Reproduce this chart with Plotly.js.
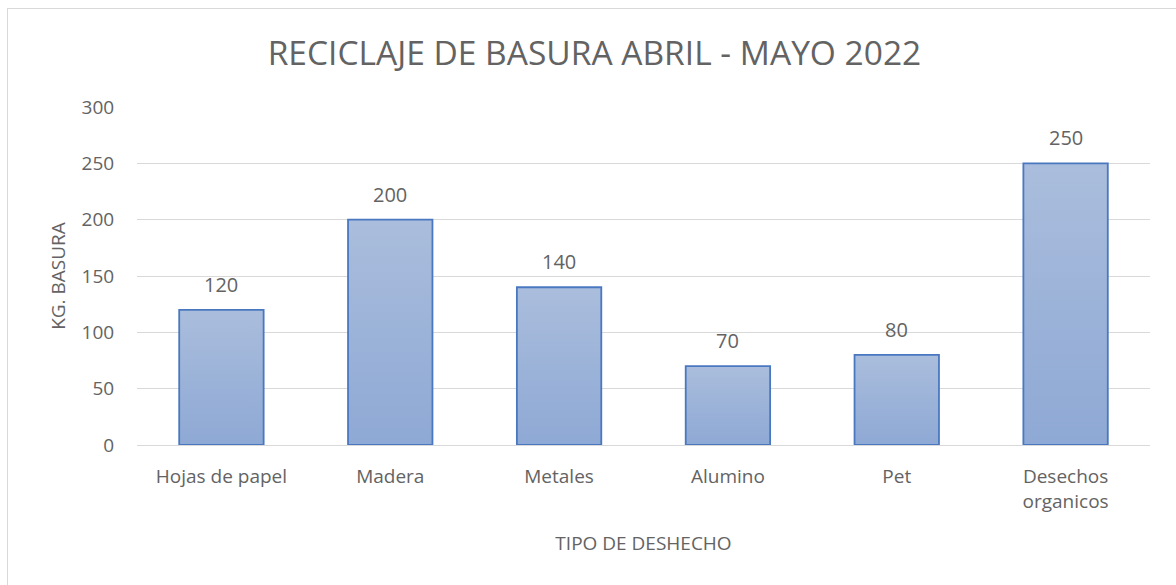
<!DOCTYPE html>
<html>
<head>
<meta charset="utf-8">
<script src="https://cdn.plot.ly/plotly-3.0.1.min.js"></script>
<style>
  html, body { margin: 0; padding: 0; background: #ffffff; overflow: hidden; }
  #wrap { position: absolute; left: 7px; top: 8px; width: 1180px; height: 590px; border: 1px solid #d9d9d9; background: #fff; }
  #chart { width: 1180px; height: 590px; }
</style>
</head>
<body>
<div id="wrap"><div id="chart"></div></div>
<script>
const categories = ["Hojas de papel", "Madera", "Metales", "Alumino", "Pet", "Desechos<br>organicos"];
const values = [120, 200, 140, 70, 80, 250];
const yTicks = [0, 50, 100, 150, 200, 250, 300];

const fontFam = "'Open Sans', 'Noto Sans', 'Liberation Sans', sans-serif";
const grey = "#636363";

const trace = {
  type: "bar",
  x: categories,
  y: values,
  marker: { color: "#9cb1d8", line: { color: "#4a78c0", width: 1.8 } },
  hoverinfo: "none",
  cliponaxis: false
};

const annotations = categories.map((c, i) => ({
  x: c, y: values[i], xref: "x", yref: "y",
  text: String(values[i]),
  showarrow: false, yanchor: "bottom", yshift: 10,
  font: { family: fontFam, size: 20, color: grey }
}));

const layout = {
  width: 1180, height: 590,
  margin: { l: 129, r: 38, t: 98, b: 154 },
  paper_bgcolor: "#ffffff", plot_bgcolor: "#ffffff",
  showlegend: false,
  bargap: 0.5,
  font: { family: fontFam, color: grey },
  title: {
    text: "RECICLAJE DE BASURA ABRIL - MAYO 2022",
    font: { family: fontFam, size: 33.5, color: grey },
    x: 0.497, xanchor: "center", xref: "container",
    y: 0.925, yanchor: "middle", yref: "container"
  },
  xaxis: {
    type: "category",
    tickfont: { family: fontFam, size: 19, color: grey },
    ticks: "outside", ticklen: 14, tickcolor: "rgba(0,0,0,0)",
    showline: true, linecolor: "#d9d9d9", linewidth: 1,
    showgrid: false,
    automargin: false,
    title: { text: "TIPO DE DESHECHO", font: { family: fontFam, size: 19, color: grey }, standoff: 24 }
  },
  yaxis: {
    range: [0, 300],
    tickvals: yTicks,
    ticktext: yTicks.map(String),
    tickfont: { family: fontFam, size: 19, color: grey },
    ticks: "outside", ticklen: 18, tickcolor: "rgba(0,0,0,0)",
    showgrid: true, gridcolor: "#d9d9d9", gridwidth: 1,
    zeroline: false, showline: false,
    automargin: false,
    title: { text: "KG. BASURA", font: { family: fontFam, size: 19, color: grey }, standoff: 10 }
  },
  annotations: annotations
};

function applyGradient(gd) {
  const svg = gd.querySelector("svg.main-svg");
  if (!svg) return;
  let defs = svg.querySelector("defs");
  if (!defs) { defs = document.createElementNS("http://www.w3.org/2000/svg", "defs"); svg.insertBefore(defs, svg.firstChild); }
  if (!svg.querySelector("#barGrad")) {
    const g = document.createElementNS("http://www.w3.org/2000/svg", "linearGradient");
    g.setAttribute("id", "barGrad");
    g.setAttribute("x1", "0"); g.setAttribute("y1", "0");
    g.setAttribute("x2", "0"); g.setAttribute("y2", "1");
    const s1 = document.createElementNS("http://www.w3.org/2000/svg", "stop");
    s1.setAttribute("offset", "0"); s1.setAttribute("stop-color", "#aabddc");
    const s2 = document.createElementNS("http://www.w3.org/2000/svg", "stop");
    s2.setAttribute("offset", "1"); s2.setAttribute("stop-color", "#8ea9d5");
    g.appendChild(s1); g.appendChild(s2);
    defs.appendChild(g);
  }
  gd.querySelectorAll(".bars .point path").forEach(p => { p.style.fill = "url(#barGrad)"; });
}

const gd = document.getElementById("chart");
Plotly.newPlot(gd, [trace], layout, { displayModeBar: false, staticPlot: true }).then(() => {
  applyGradient(gd);
  gd.on && gd.on("plotly_afterplot", () => applyGradient(gd));
});
</script>
</body>
</html>
